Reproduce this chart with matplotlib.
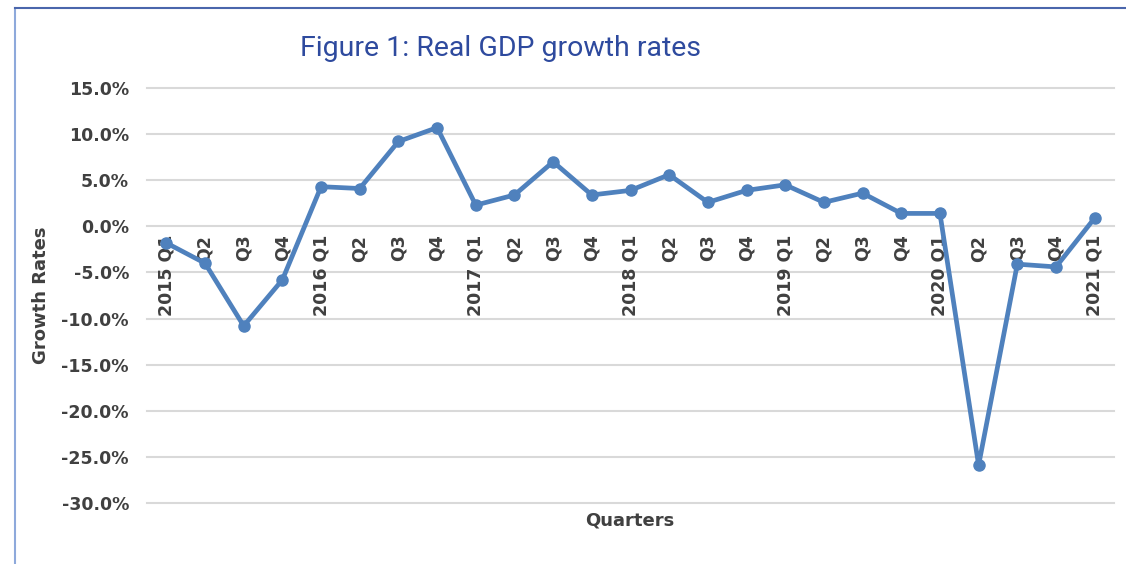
import matplotlib
matplotlib.use('Agg')
import matplotlib.pyplot as plt
from matplotlib.lines import Line2D
from matplotlib.ticker import FuncFormatter

quarters = ['2015 Q1', 'Q2', 'Q3', 'Q4',
            '2016 Q1', 'Q2', 'Q3', 'Q4',
            '2017 Q1', 'Q2', 'Q3', 'Q4',
            '2018 Q1', 'Q2', 'Q3', 'Q4',
            '2019 Q1', 'Q2', 'Q3', 'Q4',
            '2020 Q1', 'Q2', 'Q3', 'Q4',
            '2021 Q1']
growth = [-1.8, -4.0, -10.8, -5.8,
          4.3, 4.1, 9.2, 10.7,
          2.3, 3.4, 7.0, 3.4,
          3.9, 5.6, 2.6, 3.9,
          4.5, 2.6, 3.6, 1.4,
          1.4, -25.9, -4.1, -4.4,
          0.9]
yticks = [15, 10, 5, 0, -5, -10, -15, -20, -25, -30]

txt = '#404040'
fig = plt.figure(figsize=(11.26, 5.64), dpi=100)
ax = fig.add_axes([147/1126, 1-503/564, (1114-147)/1126, (503-88)/564])

x = list(range(len(quarters)))
ax.plot(x, growth, color='#4F81BD', lw=3.4, marker='o', ms=8, zorder=3, clip_on=False)

ax.set_xlim(-0.5, len(quarters)-0.5)
ax.set_ylim(-30, 15)
ax.set_yticks(yticks)
ax.yaxis.set_major_formatter(FuncFormatter(lambda v, p: '{:.1f}%'.format(v)))
ax.grid(axis='y', color='#D9D9D9', lw=1.5)
for gl in ax.get_ygridlines():
    gl.set_clip_on(False)
ax.set_axisbelow(True)
ax.set_xticks([])
for s in ax.spines.values():
    s.set_visible(False)
ax.tick_params(axis='y', length=0, pad=13, labelsize=12.5, labelcolor=txt)
for lbl in ax.get_yticklabels():
    lbl.set_fontweight('bold')

# category labels sit just under the zero line
for i, q in enumerate(quarters):
    ax.text(i, -0.9, q, rotation=90, ha='center', va='top', fontsize=12.5,
            fontweight='bold', color=txt, zorder=2)

ax.set_ylabel('Growth Rates', fontsize=13, fontweight='bold', color=txt, labelpad=8)
fig.text(630/1126, 1-521/564, 'Quarters', ha='center', va='center', fontsize=13,
         fontweight='bold', color=txt)
fig.text(500/1126, 1-48/564, 'Figure 1: Real GDP growth rates', ha='center', va='center',
         fontsize=20.5, color='#2E4A9E', family=['Roboto', 'DejaVu Sans'])

# outer frame lines
fig.add_artist(Line2D([15/1126, 15/1126], [0, 1-8/564], color='#8EA9DB', lw=1.5))
fig.add_artist(Line2D([15/1126, 1], [1-8/564, 1-8/564], color='#4A66AC', lw=1.5))

fig.savefig('out.png', dpi=100)
